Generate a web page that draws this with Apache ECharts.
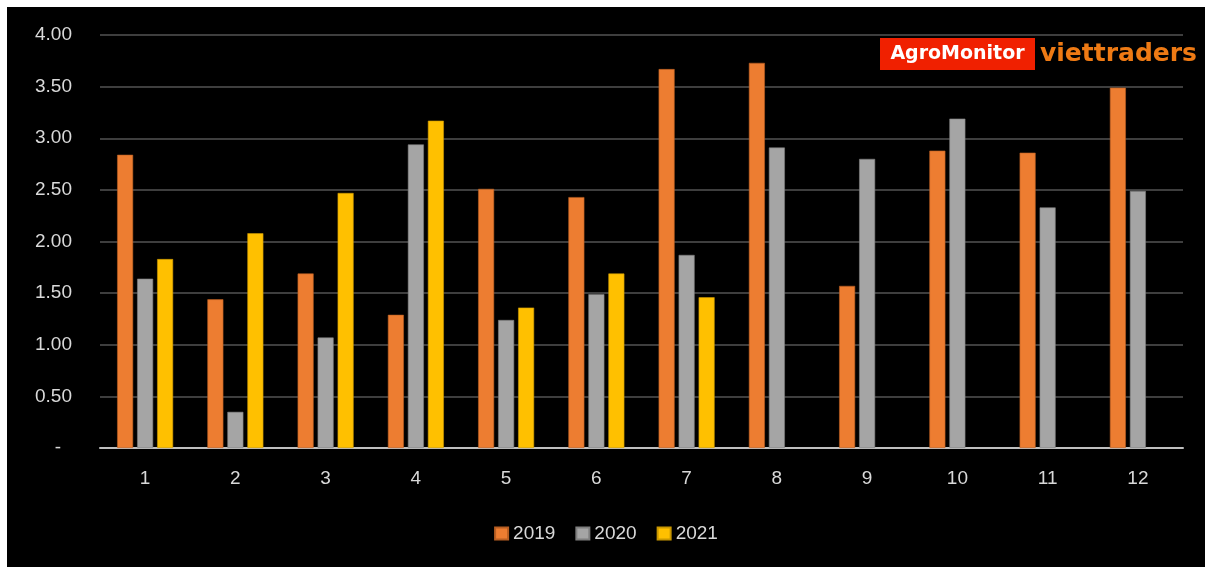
<!DOCTYPE html>
<html>
<head>
<meta charset="utf-8">
<script src="https://cdn.jsdelivr.net/npm/echarts@6/dist/echarts.min.js"></script>
<style>
  html, body { margin: 0; padding: 0; background: #ffffff; }
  #chart { position: absolute; left: 7px; top: 7px; width: 1198px; height: 560px; }
</style>
</head>
<body>
<div id="chart"></div>
<script>
// Months of the year
const months = ['1', '2', '3', '4', '5', '6', '7', '8', '9', '10', '11', '12'];

// Monthly values per year (2021 only runs to July)
const y2019 = [2.84, 1.44, 1.69, 1.29, 2.51, 2.43, 3.67, 3.73, 1.57, 2.88, 2.86, 3.49];
const y2020 = [1.64, 0.35, 1.07, 2.94, 1.24, 1.49, 1.87, 2.91, 2.80, 3.19, 2.33, 2.49];
const y2021 = [1.83, 2.08, 2.47, 3.17, 1.36, 1.69, 1.46, null, null, null, null, null];

const seriesNames = ['2019', '2020', '2021'];
const seriesColors = ['#ED7D31', '#A5A5A5', '#FFC000'];
const borderColors = ['#b85e22', '#7f7f7f', '#c99700'];

const chart = echarts.init(document.getElementById('chart'));

const labelFont = 'Liberation Sans, Arial, sans-serif';
const labelSize = 19;

function barSeries(name, data, i) {
  return {
    name: name,
    type: 'bar',
    data: data,
    barWidth: 16,
    barGap: '25%',
    itemStyle: { color: seriesColors[i], borderColor: borderColors[i], borderWidth: 0.6 }
  };
}

chart.setOption({
  backgroundColor: '#000000',
  animation: false,
  grid: { left: 93, right: 22, top: 28, bottom: 119 },
  legend: {
    bottom: 19,
    left: 'center',
    itemWidth: 13,
    itemHeight: 12,
    itemGap: 20,
    icon: 'rect',
    textStyle: { color: '#d9d9d9', fontSize: labelSize, fontFamily: labelFont },
    data: seriesNames
  },
  xAxis: {
    type: 'category',
    data: months,
    axisLine: { lineStyle: { color: '#bfbfbf', width: 2 } },
    axisTick: { show: false },
    axisLabel: { color: '#d9d9d9', fontSize: labelSize, fontFamily: labelFont, margin: 21 }
  },
  yAxis: {
    type: 'value',
    min: 0,
    max: 4,
    interval: 0.5,
    axisLine: { show: false },
    axisTick: { show: false },
    splitLine: { lineStyle: { color: '#3e3e3e', width: 2 } },
    axisLabel: {
      color: '#d9d9d9',
      fontSize: labelSize,
      fontFamily: labelFont,
      margin: 28,
      formatter: function (v) {
        return v === 0 ? '{dash|-}' : v.toFixed(2);
      },
      rich: {
        dash: { color: '#d9d9d9', fontSize: labelSize, fontFamily: labelFont, padding: [0, 11, 0, 0] }
      }
    }
  },
  graphic: [
    {
      type: 'rect',
      left: 873, top: 31,
      shape: { width: 155, height: 32 },
      style: { fill: '#F02000' }
    },
    {
      type: 'text',
      x: 950.5, y: 47,
      style: {
        text: 'AgroMonitor',
        fill: '#ffffff',
        font: 'bold 19px "DejaVu Sans", sans-serif',
        align: 'center',
        verticalAlign: 'middle'
      }
    },
    {
      type: 'text',
      x: 1033, y: 47,
      style: {
        text: 'viettraders',
        fill: '#EE7A14',
        font: 'bold 25px "DejaVu Sans", sans-serif',
        align: 'left',
        verticalAlign: 'middle'
      }
    }
  ],
  series: [
    barSeries(seriesNames[0], y2019, 0),
    barSeries(seriesNames[1], y2020, 1),
    barSeries(seriesNames[2], y2021, 2)
  ]
});
</script>
</body>
</html>
